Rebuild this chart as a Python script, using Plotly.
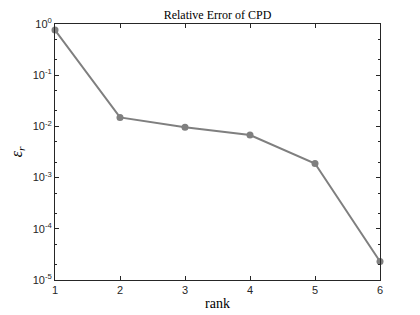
import plotly.graph_objects as go

ranks = [1, 2, 3, 4, 5, 6]
rel_err = [0.76, 0.0150, 0.0096, 0.0068, 0.00188, 2.3e-5]
ytick_vals = [1e-5, 1e-4, 1e-3, 1e-2, 1e-1, 1e0]
ytick_text = ["10<sup>-5</sup>", "10<sup>-4</sup>", "10<sup>-3</sup>", "10<sup>-2</sup>", "10<sup>-1</sup>", "10<sup>0</sup>"]

fig = go.Figure()
fig.add_trace(go.Scatter(
    x=ranks, y=rel_err, mode="lines+markers",
    line=dict(color="#7f7f7f", width=2),
    marker=dict(color="#7f7f7f", size=7, symbol="circle"),
    showlegend=False, cliponaxis=False,
))

axis_common = dict(showline=True, linecolor="#262626", linewidth=1, mirror="ticks",
                   ticks="inside", tickcolor="#262626", showgrid=False, zeroline=False,
                   automargin=False,
                   tickfont=dict(family="Liberation Sans, Arial", size=11, color="#262626"))

fig.update_xaxes(range=[1, 6], tickvals=ranks, ticklen=4,
                 title=dict(text="rank", font=dict(family="Liberation Serif, Times New Roman", size=14, color="black"), standoff=2),
                 **axis_common)
fig.update_yaxes(type="log", range=[-5, 0], tickvals=ytick_vals, ticktext=ytick_text, ticklen=4,
                 minor=dict(ticks="inside", ticklen=2, tickcolor="#262626", showgrid=False),
                 title=dict(text="<i>ε<sub>r</sub></i>", font=dict(family="Liberation Serif, Times New Roman", size=16, color="black"), standoff=6),
                 **axis_common)

# the page draws the figure 8px in from the top-left corner; margins compensate
fig.update_layout(
    width=420, height=315,
    margin=dict(l=47, r=48, t=16, b=43),
    plot_bgcolor="white", paper_bgcolor="white",
    title=dict(text="Relative Error of CPD", x=0.5, xanchor="center", xref="paper",
               y=1, yref="container", yanchor="top", pad=dict(t=3),
               font=dict(family="Liberation Serif, Times New Roman", size=12, color="black")),
)

fig.write_html("out.html")
